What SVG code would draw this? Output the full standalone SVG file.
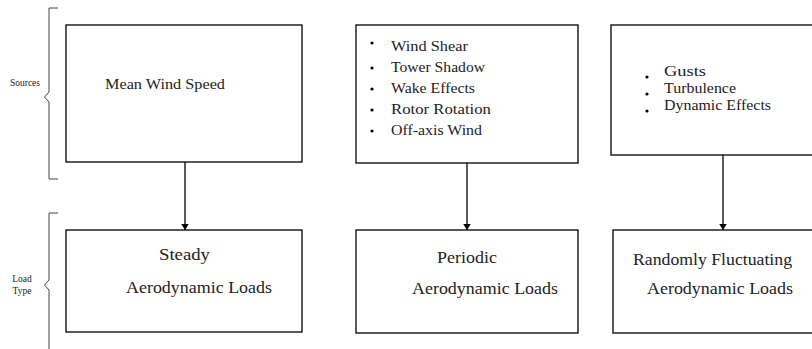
<svg xmlns="http://www.w3.org/2000/svg" width="812" height="349" viewBox="0 0 812 349">
<style>
.box{fill:#fff;stroke:#000;stroke-width:1.3}
.brace{fill:none;stroke:#444;stroke-width:1}
.conn{stroke:#000;stroke-width:1.3;fill:none}
.dot{fill:#000}
</style>
<defs>
<marker id="ah" viewBox="0 0 8 10" refX="8" refY="5" markerWidth="6" markerHeight="8" markerUnits="userSpaceOnUse" orient="auto">
<path d="M0,0 L8,5 L0,10 Z" fill="#000"/>
</marker>
</defs>
<rect x="0" y="0" width="812" height="349" fill="#fff"/>
<g id="brace-sources">
<path class="brace" d="M58,8 L49,8 L49,92 L44.5,97 L49,102 L49,179 L58,179"/>
<text x="25" y="86" text-anchor="middle" font-family="Liberation Serif, Times New Roman, serif" font-size="9.5" fill="#222">Sources</text>
</g>
<g id="brace-loadtype">
<path class="brace" d="M58,213 L49,213 L49,280 L44.5,285 L49,290 L49,349"/>
<text x="22" y="282" text-anchor="middle" font-family="Liberation Serif, Times New Roman, serif" font-size="9.5" fill="#222">Load</text>
<text x="22" y="294" text-anchor="middle" font-family="Liberation Serif, Times New Roman, serif" font-size="9.5" fill="#222">Type</text>
</g>
<g id="src-mean">
<rect class="box" x="66" y="25" width="236" height="137"/>
<text x="105" y="89" font-family="Liberation Serif, Times New Roman, serif" font-size="15" fill="#222" textLength="120" lengthAdjust="spacingAndGlyphs">Mean Wind Speed</text>
</g>
<g id="src-periodic">
<rect class="box" x="356" y="25" width="222" height="138"/>
<circle class="dot" cx="372" cy="43" r="1.6"/>
<circle class="dot" cx="372" cy="68" r="1.6"/>
<circle class="dot" cx="372" cy="89" r="1.6"/>
<circle class="dot" cx="372" cy="110" r="1.6"/>
<circle class="dot" cx="372" cy="131" r="1.6"/>
<g font-family="Liberation Serif, Times New Roman, serif" font-size="15" fill="#222">
<text x="391" y="51" textLength="77" lengthAdjust="spacingAndGlyphs">Wind Shear</text>
<text x="391" y="72" textLength="94" lengthAdjust="spacingAndGlyphs">Tower Shadow</text>
<text x="391" y="93" textLength="84" lengthAdjust="spacingAndGlyphs">Wake Effects</text>
<text x="391" y="114" textLength="100" lengthAdjust="spacingAndGlyphs">Rotor Rotation</text>
<text x="391" y="135" textLength="91" lengthAdjust="spacingAndGlyphs">Off-axis Wind</text>
</g>
</g>
<g id="src-random">
<rect class="box" x="611" y="25" width="210" height="130"/>
<circle class="dot" cx="647" cy="77" r="1.6"/>
<circle class="dot" cx="647" cy="94" r="1.6"/>
<circle class="dot" cx="647" cy="111" r="1.6"/>
<g font-family="Liberation Serif, Times New Roman, serif" font-size="15" fill="#222">
<text x="664" y="76" textLength="42" lengthAdjust="spacingAndGlyphs">Gusts</text>
<text x="664" y="93" textLength="72" lengthAdjust="spacingAndGlyphs">Turbulence</text>
<text x="664" y="110" textLength="107" lengthAdjust="spacingAndGlyphs">Dynamic Effects</text>
</g>
</g>
<g id="load-steady">
<rect class="box" x="66" y="230" width="236" height="102"/>
<g font-family="Liberation Serif, Times New Roman, serif" font-size="17.5" fill="#222">
<text x="159" y="260" textLength="51" lengthAdjust="spacingAndGlyphs">Steady</text>
<text x="126" y="293" textLength="146" lengthAdjust="spacingAndGlyphs">Aerodynamic Loads</text>
</g>
</g>
<g id="load-periodic">
<rect class="box" x="356" y="230" width="222" height="103"/>
<g font-family="Liberation Serif, Times New Roman, serif" font-size="17.5" fill="#222">
<text x="437" y="263" textLength="60" lengthAdjust="spacingAndGlyphs">Periodic</text>
<text x="412" y="294" textLength="146" lengthAdjust="spacingAndGlyphs">Aerodynamic Loads</text>
</g>
</g>
<g id="load-random">
<rect class="box" x="613" y="230" width="210" height="103"/>
<g font-family="Liberation Serif, Times New Roman, serif" font-size="17.5" fill="#222">
<text x="633" y="265" textLength="159" lengthAdjust="spacingAndGlyphs">Randomly Fluctuating</text>
<text x="647" y="294" textLength="146" lengthAdjust="spacingAndGlyphs">Aerodynamic Loads</text>
</g>
</g>
<g id="connectors">
<line class="conn" x1="185" y1="162" x2="185" y2="230" marker-end="url(#ah)"/>
<line class="conn" x1="467" y1="163" x2="467" y2="230" marker-end="url(#ah)"/>
<line class="conn" x1="723" y1="155" x2="723" y2="230" marker-end="url(#ah)"/>
</g>
</svg>
